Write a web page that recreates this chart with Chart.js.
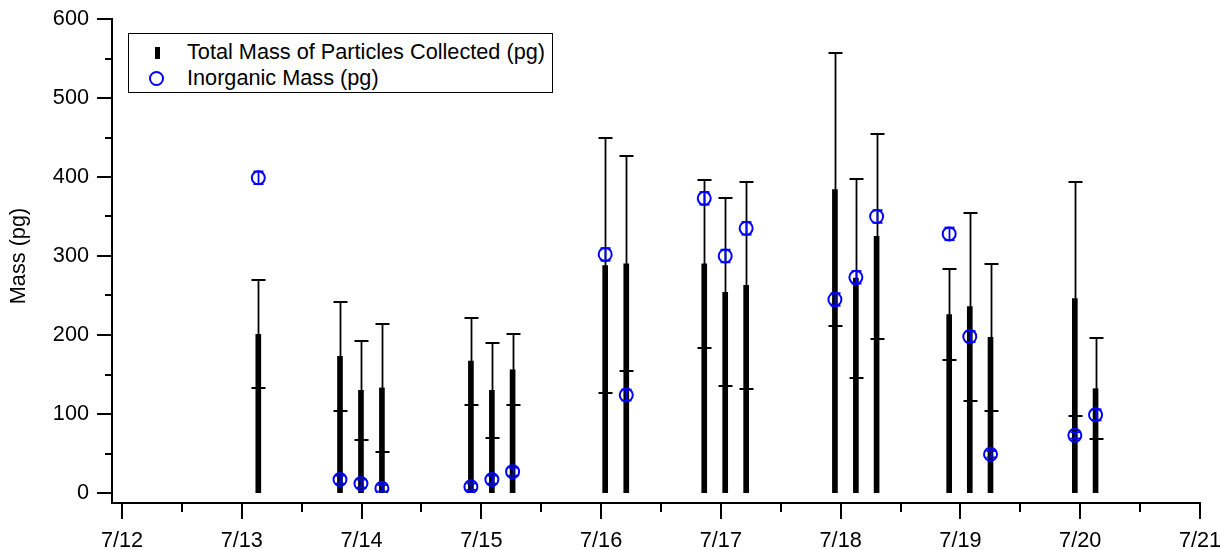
<!DOCTYPE html>
<html>
<head>
<meta charset="utf-8">
<script src="https://cdn.jsdelivr.net/npm/chart.js@4/dist/chart.umd.min.js"></script>
<style>
html,body{margin:0;padding:0;background:#fff;}
#wrap{position:relative;width:1220px;height:550px;overflow:hidden;}
#c{position:absolute;left:0;top:0;}
.lg{position:absolute;font-family:"Liberation Sans",Arial,sans-serif;font-size:21.7px;color:#000;line-height:1;white-space:nowrap;}
#legendBox{position:absolute;left:128px;top:33px;width:425px;height:60px;border:1.6px solid #000;box-sizing:border-box;background:#fff;}
#symBar{position:absolute;left:155px;top:47px;width:5px;height:12px;background:#000;}
#symCirc{position:absolute;left:148.5px;top:71px;width:11px;height:11px;border:2px solid #0000ff;border-radius:50%;}
</style>
</head>
<body>
<div id="wrap">
<canvas id="c" width="1220" height="550"></canvas>
<div id="legendBox"></div>
<div id="symBar"></div>
<div id="symCirc"></div>
<div class="lg" id="lg1" style="left:187px;top:41px;">Total Mass of Particles Collected (pg)</div>
<div class="lg" id="lg2" style="left:187px;top:67px;">Inorganic Mass (pg)</div>
</div>
<script>
// ---- data (x = day of July, fractional) ----
const sampleDays = [13.138, 13.820, 13.995, 14.170, 14.913, 15.088, 15.261, 16.034, 16.210, 16.861, 17.036, 17.211, 17.952, 18.127, 18.300, 18.906, 19.078, 19.251, 19.955, 20.128];
const totalMass = [201, 173, 130, 133, 167, 130, 156, 288, 290, 290, 254, 263, 384, 272, 325, 226, 236, 197, 246, 132];
const totalMassErr = [68, 69, 63, 81, 55, 60, 45, 161, 136, 106, 119, 131, 173, 126, 130, 58, 119, 93, 148, 64];
const inorganicMass = [399, 17, 12, 6, 8, 17, 27, 302, 124, 373, 300, 335, 245, 273, 350, 328, 198, 49, 73, 99];
const inorganicErr = [8, 5, 5, 4, 4, 5, 5, 8, 7, 8, 8, 8, 8, 8, 8, 8, 7, 4, 4, 7];
const xTickValues = [12, 13, 14, 15, 16, 17, 18, 19, 20, 21];
const xTickLabels = ['7/12', '7/13', '7/14', '7/15', '7/16', '7/17', '7/18', '7/19', '7/20', '7/21'];
const yTickValues = [0, 100, 200, 300, 400, 500, 600];

const FONT = {family: '"Liberation Sans", Arial, sans-serif', size: 21.7};
const BLUE = '#0000ff';

const totalData = sampleDays.map((d, i) => ({x: d, y: totalMass[i]}));
const inorgData = sampleDays.map((d, i) => ({x: d, y: inorganicMass[i]}));

function vline(ctx, x, y1, y2) { ctx.beginPath(); ctx.moveTo(x, y1); ctx.lineTo(x, y2); ctx.stroke(); }
function hline(ctx, x1, x2, y) { ctx.beginPath(); ctx.moveTo(x1, y); ctx.lineTo(x2, y); ctx.stroke(); }

const errPlugin = {
  id: 'errbars',
  afterDatasetDraw(chart, args) {
    const ctx = chart.ctx, xs = chart.scales.x, ys = chart.scales.y;
    ctx.save();
    if (args.index === 0) {
      ctx.strokeStyle = '#000';
      sampleDays.forEach((d, i) => {
        const px = Math.round(xs.getPixelForValue(d)) + 0.5;
        const lo = ys.getPixelForValue(totalMass[i] - totalMassErr[i]);
        const hi = ys.getPixelForValue(totalMass[i] + totalMassErr[i]);
        ctx.lineWidth = 1.8;
        vline(ctx, px, lo, hi);
        ctx.lineWidth = 2;
        hline(ctx, px - 7, px + 7, Math.round(lo));
        hline(ctx, px - 7, px + 7, Math.round(hi));
      });
    } else if (args.index === 1) {
      ctx.strokeStyle = BLUE;
      sampleDays.forEach((d, i) => {
        const px = Math.round(xs.getPixelForValue(d)) + 0.5;
        const lo = ys.getPixelForValue(inorganicMass[i] - inorganicErr[i]);
        const hi = ys.getPixelForValue(inorganicMass[i] + inorganicErr[i]);
        ctx.lineWidth = 1.8;
        vline(ctx, px, lo, hi);
        hline(ctx, px - 5, px + 5, lo);
        hline(ctx, px - 5, px + 5, hi);
      });
    }
    ctx.restore();
  }
};

const axesPlugin = {
  id: 'igorAxes',
  afterDraw(chart) {
    const ctx = chart.ctx, xs = chart.scales.x, ys = chart.scales.y, a = chart.chartArea;
    const axX = a.left - 10, axY = a.bottom + 10;
    ctx.save();
    ctx.strokeStyle = '#000';
    ctx.lineWidth = 2;
    ctx.lineCap = 'square';
    vline(ctx, axX, ys.getPixelForValue(600), axY);
    hline(ctx, axX, xs.getPixelForValue(21), axY);
    ctx.lineCap = 'butt';
    yTickValues.forEach(v => { const py = Math.round(ys.getPixelForValue(v)); hline(ctx, axX - 15, axX, py); });
    yTickValues.slice(0, -1).forEach(v => { const py = Math.round(ys.getPixelForValue(v + 50)); hline(ctx, axX - 7, axX, py); });
    xTickValues.forEach(v => { const px = Math.round(xs.getPixelForValue(v)); vline(ctx, px, axY, axY + 16); });
    xTickValues.slice(0, -1).forEach(v => { const px = Math.round(xs.getPixelForValue(v + 0.5)); vline(ctx, px, axY, axY + 9); });
    ctx.restore();
  }
};

new Chart(document.getElementById('c'), {
  type: 'bar',
  data: {
    datasets: [
      {
        type: 'bar',
        label: 'Total Mass of Particles Collected (pg)',
        data: totalData,
        backgroundColor: '#000',
        borderWidth: 0,
        barThickness: 5,
        order: 2
      },
      {
        type: 'scatter',
        label: 'Inorganic Mass (pg)',
        data: inorgData,
        showLine: false,
        pointStyle: 'circle',
        pointRadius: 6.5,
        pointBorderWidth: 2,
        pointBorderColor: BLUE,
        pointBackgroundColor: 'rgba(0,0,0,0)',
        order: 1
      }
    ]
  },
  options: {
    responsive: false,
    animation: false,
    events: [],
    layout: {padding: {left: 0, right: 20, top: 19, bottom: 0}},
    plugins: {legend: {display: false}, tooltip: {enabled: false}},
    scales: {
      x: {
        type: 'linear',
        offset: false,
        min: 12, max: 21,
        grid: {display: false, drawTicks: false, offset: false},
        border: {display: false},
        afterBuildTicks: s => { s.ticks = xTickValues.map(v => ({value: v})); },
        afterFit: s => { s.height = 57; s.paddingLeft = 0; s.paddingRight = 0; },
        ticks: {
          autoSkip: false, maxRotation: 0, color: '#000', font: FONT, padding: 35,
          callback: v => xTickLabels[xTickValues.indexOf(v)]
        }
      },
      y: {
        min: 0, max: 600,
        grid: {display: false, drawTicks: false},
        border: {display: false},
        afterBuildTicks: s => { s.ticks = yTickValues.map(v => ({value: v})); },
        afterFit: s => { s.width = 122; s.paddingTop = 0; s.paddingBottom = 0; },
        ticks: {color: '#000', font: FONT, padding: 33},
        title: {display: true, text: 'Mass (pg)', color: '#000', font: FONT, padding: {top: 6, bottom: 0}}
      }
    }
  },
  plugins: [errPlugin, axesPlugin]
});
</script>
</body>
</html>
